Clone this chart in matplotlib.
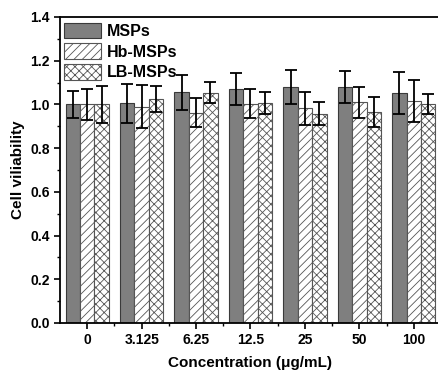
import numpy as np
import matplotlib.pyplot as plt
from matplotlib.ticker import MultipleLocator

plt.rcParams['font.family'] = ['Liberation Sans', 'DejaVu Sans']
plt.rcParams['font.weight'] = 'bold'
plt.rcParams['hatch.linewidth'] = 0.6

concentrations = ['0', '3.125', '6.25', '12.5', '25', '50', '100']
msps = [1.0, 1.005, 1.055, 1.07, 1.08, 1.08, 1.052]
msps_err = [0.06, 0.088, 0.08, 0.073, 0.078, 0.072, 0.096]
hb_msps = [1.0, 0.99, 0.962, 1.004, 0.982, 1.009, 1.015]
hb_err = [0.07, 0.1, 0.066, 0.068, 0.075, 0.072, 0.097]
lb_msps = [1.0, 1.025, 1.053, 1.006, 0.957, 0.964, 1.0]
lb_err = [0.085, 0.06, 0.048, 0.052, 0.053, 0.069, 0.046]

fig = plt.figure(figsize=(4.39, 3.74), dpi=100)
ax = fig.add_axes([60/439, 51/374, 381/439, 306/374])

x = np.arange(len(concentrations))
w = 0.265
err_kw = dict(ecolor='black', elinewidth=1.3, capsize=4, capthick=1.3)

ax.bar(x - w, msps, w, yerr=msps_err, color='#7f7f7f', edgecolor='#3a3a3a',
       linewidth=0.8, label='MSPs', error_kw=err_kw)
ax.bar(x, hb_msps, w, yerr=hb_err, color='white', edgecolor='#555555',
       hatch='////', linewidth=0.8, label='Hb-MSPs', error_kw=err_kw)
ax.bar(x + w, lb_msps, w, yerr=lb_err, color='white', edgecolor='#555555',
       hatch='xxxx', linewidth=0.8, label='LB-MSPs', error_kw=err_kw)

ax.set_xlim(-0.5, len(concentrations) - 0.5)
ax.set_ylim(0, 1.4)
ax.set_xticks(x)
ax.set_xticklabels(concentrations)
ax.xaxis.set_minor_locator(plt.FixedLocator(x[:-1] + 0.5))
ax.yaxis.set_major_locator(MultipleLocator(0.2))
ax.yaxis.set_minor_locator(MultipleLocator(0.1))
ax.yaxis.set_major_formatter(plt.FormatStrFormatter('%.1f'))
ax.tick_params(which='major', direction='out', length=4, width=1.2, labelsize=10)
ax.tick_params(which='minor', direction='out', length=2.5, width=1)
for s in ax.spines.values():
    s.set_linewidth(1.3)

ax.set_xlabel('Concentration (\u03bcg/mL)', fontsize=11, fontweight='bold', labelpad=6)
ax.set_ylabel('Cell viliability', fontsize=11, fontweight='bold', labelpad=4)

ax.legend(loc='upper left', bbox_to_anchor=(0.0, 0.995), frameon=False,
          fontsize=11.5, handlelength=2.3, handleheight=1.1,
          labelspacing=0.3, handletextpad=0.4, borderpad=0.1, borderaxespad=0.15)

fig.savefig('out.png', dpi=100)
